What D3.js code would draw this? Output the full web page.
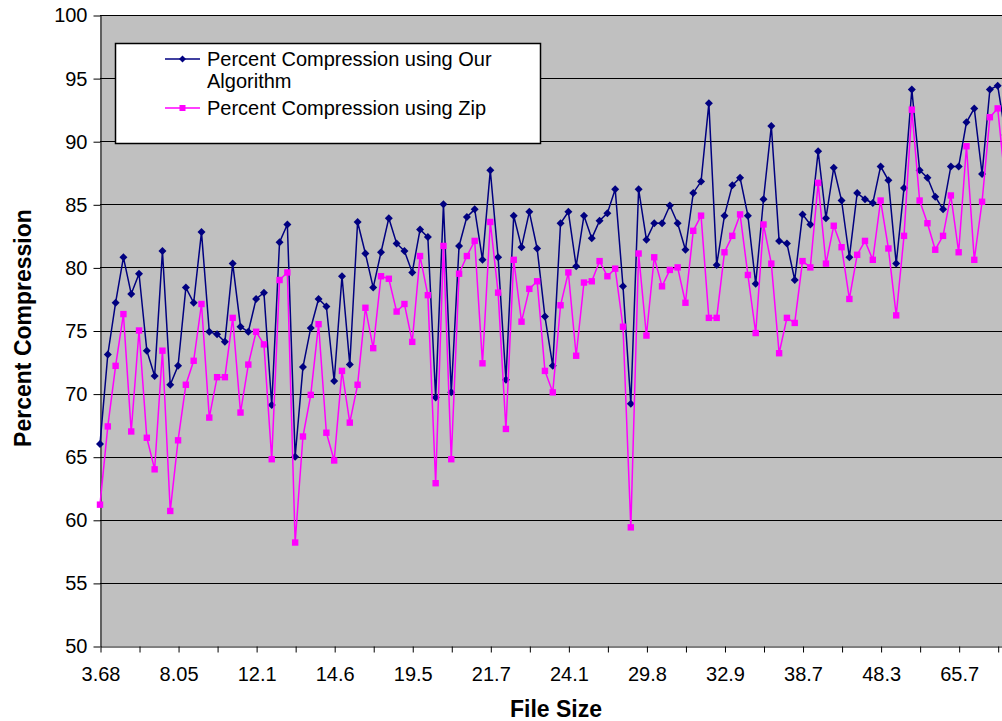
<!DOCTYPE html>
<html>
<head>
<meta charset="utf-8">
<script src="https://cdn.jsdelivr.net/npm/d3@7/dist/d3.min.js"></script>
<style>
  body { margin: 0; background: #fff; }
  text { font-family: "Liberation Sans", Arial, sans-serif; }
</style>
</head>
<body>
<div id="chart"></div>
<script>
// x tick labels, one every 10 files (ticks every 5)
var tickLabels = ["3.68", "8.05", "12.1", "14.6", "19.5", "21.7", "24.1", "29.8", "32.9", "38.7", "48.3", "65.7"];

// percent compression, our algorithm
var ourValues = [66.0,73.1,77.2,80.8,77.9,79.5,73.4,71.4,81.3,70.7,
  72.2,78.4,77.2,82.8,74.9,74.7,74.1,80.3,75.3,74.9,
  77.5,78.0,69.1,82.0,83.4,65.0,72.1,75.2,77.5,76.9,
  71.0,79.3,72.3,83.6,81.1,78.4,81.2,83.9,81.9,81.3,
  79.6,83.0,82.4,69.7,85.0,70.1,81.7,84.0,84.6,80.6,
  87.7,80.8,71.1,84.1,81.6,84.4,81.5,76.1,72.2,83.5,
  84.4,80.1,84.1,82.3,83.7,84.3,86.2,78.5,69.2,86.2,
  82.2,83.5,83.5,84.9,83.5,81.4,85.9,86.8,93.0,80.2,
  84.1,86.5,87.1,84.1,78.7,85.4,91.2,82.1,81.9,79.0,
  84.2,83.4,89.2,83.9,87.9,85.3,80.8,85.9,85.4,85.1,
  88.0,86.9,80.3,86.3,94.1,87.7,87.1,85.6,84.6,88.0,
  88.0,91.5,92.6,87.4,94.1,94.4,90.5];

// percent compression, zip
var zipValues = [61.2,67.4,72.2,76.3,67.0,75.0,66.5,64.0,73.4,60.7,
  66.3,70.7,72.6,77.1,68.1,71.3,71.3,76.0,68.5,72.3,
  74.9,73.9,64.8,79.0,79.6,58.2,66.6,69.9,75.5,66.9,
  64.7,71.8,67.7,70.7,76.8,73.6,79.3,79.1,76.5,77.1,
  74.1,80.9,77.8,62.9,81.7,64.8,79.5,80.9,82.1,72.4,
  83.6,78.0,67.2,80.6,75.7,78.3,78.9,71.8,70.1,77.0,
  79.6,73.0,78.8,78.9,80.5,79.3,79.9,75.3,59.4,81.1,
  74.6,80.8,78.5,79.8,80.0,77.2,82.9,84.1,76.0,76.0,
  81.2,82.5,84.2,79.4,74.8,83.4,80.3,73.2,76.0,75.6,
  80.5,80.0,86.7,80.3,83.3,81.6,77.5,81.0,82.1,80.6,
  85.3,81.5,76.2,82.5,92.5,85.3,83.5,81.4,82.5,85.7,
  81.2,89.6,80.6,85.2,91.9,92.6,86.5];

var width = 1002, height = 721;
var plot = {left: 100, top: 15, bottom: 646, right: 1010};
var step = 7.806;

var svg = d3.select("#chart").append("svg")
    .attr("width", width)
    .attr("height", height);

var x = d3.scaleLinear()
    .domain([0, ourValues.length - 1])
    .range([plot.left, plot.left + (ourValues.length - 1) * step]);

var y = d3.scaleLinear()
    .domain([50, 100])
    .range([plot.bottom, plot.top]);

// gray plot area
svg.append("rect")
    .attr("x", plot.left)
    .attr("y", plot.top)
    .attr("width", plot.right - plot.left)
    .attr("height", plot.bottom - plot.top)
    .attr("fill", "#c0c0c0");

// horizontal gridlines
svg.append("g")
  .selectAll("line")
  .data(d3.range(55, 101, 5))
  .enter().append("line")
    .attr("x1", plot.left)
    .attr("x2", plot.right)
    .attr("y1", function(d) { return Math.round(y(d)) + 0.5; })
    .attr("y2", function(d) { return Math.round(y(d)) + 0.5; })
    .attr("stroke", "#000")
    .attr("stroke-width", 1);

// y axis
var yAxis = svg.append("g")
    .attr("transform", "translate(" + (plot.left + 0.5) + ",0.5)")
    .call(d3.axisLeft(y)
        .tickValues(d3.range(50, 101, 5))
        .tickSize(7)
        .tickSizeOuter(0)
        .tickPadding(6));
yAxis.selectAll("text").style("font-size", "20px").attr("fill", "#000");
yAxis.selectAll("line, path").attr("stroke", "#000");

// x axis, ticks every 5, labels every 10
var tickIdx = d3.range(0, ourValues.length, 5);
var xAxis = svg.append("g")
    .attr("transform", "translate(0.5," + (plot.bottom + 0.5) + ")")
    .call(d3.axisBottom(x)
        .tickValues(tickIdx)
        .tickSize(6)
        .tickSizeOuter(0)
        .tickPadding(14)
        .tickFormat(function(d) { return d % 10 === 0 ? tickLabels[d / 10] : ""; }));
xAxis.selectAll("text").style("font-size", "20px").attr("fill", "#000");
xAxis.selectAll("line, path").attr("stroke", "#000");

// axis titles
svg.append("text")
    .attr("transform", "translate(31,328) rotate(-90)")
    .attr("text-anchor", "middle")
    .style("font-size", "23px")
    .style("font-weight", "bold")
    .text("Percent Compression");

svg.append("text")
    .attr("x", 556)
    .attr("y", 717)
    .attr("text-anchor", "middle")
    .style("font-size", "23px")
    .style("font-weight", "bold")
    .text("File Size");

var line = d3.line()
    .x(function(d, i) { return x(i); })
    .y(function(d) { return y(d); });

function diamond(r) {
  return "M0," + (-r) + "L" + r + ",0L0," + r + "L" + (-r) + ",0Z";
}

// our algorithm series
svg.append("path")
    .datum(ourValues)
    .attr("d", line)
    .attr("fill", "none")
    .attr("stroke", "#000080")
    .attr("stroke-width", 1.5);

svg.append("g").selectAll("path")
    .data(ourValues)
    .enter().append("path")
    .attr("transform", function(d, i) { return "translate(" + x(i) + "," + y(d) + ")"; })
    .attr("d", diamond(4))
    .attr("fill", "#000080");

// zip series
svg.append("path")
    .datum(zipValues)
    .attr("d", line)
    .attr("fill", "none")
    .attr("stroke", "#ff00ff")
    .attr("stroke-width", 1.5);

svg.append("g").selectAll("rect")
    .data(zipValues)
    .enter().append("rect")
    .attr("x", function(d, i) { return x(i) - 3.2; })
    .attr("y", function(d) { return y(d) - 3.2; })
    .attr("width", 6.4)
    .attr("height", 6.4)
    .attr("fill", "#ff00ff");

// legend
var legend = svg.append("g");
legend.append("rect")
    .attr("x", 115.5)
    .attr("y", 43.5)
    .attr("width", 425)
    .attr("height", 100)
    .attr("fill", "#fff")
    .attr("stroke", "#000")
    .attr("stroke-width", 1.5);

var legendItems = [
  {lines: ["Percent Compression using Our", "Algorithm"], color: "#000080", y: 59, marker: "diamond"},
  {lines: ["Percent Compression using Zip"], color: "#ff00ff", y: 108, marker: "square"}
];

legendItems.forEach(function(item) {
  legend.append("line")
      .attr("x1", 165).attr("x2", 200)
      .attr("y1", item.y).attr("y2", item.y)
      .attr("stroke", item.color)
      .attr("stroke-width", 1.5);
  if (item.marker === "diamond") {
    legend.append("path")
        .attr("transform", "translate(182.5," + item.y + ")")
        .attr("d", diamond(3.5))
        .attr("fill", item.color);
  } else {
    legend.append("rect")
        .attr("x", 179.5).attr("y", item.y - 3)
        .attr("width", 6).attr("height", 6)
        .attr("fill", item.color);
  }
  var t = legend.append("text")
      .attr("x", 207)
      .attr("y", item.y + 6.5)
      .style("font-size", "20px");
  item.lines.forEach(function(s, k) {
    t.append("tspan")
        .attr("x", 207)
        .attr("dy", k === 0 ? 0 : 22)
        .text(s);
  });
});
</script>
</body>
</html>
